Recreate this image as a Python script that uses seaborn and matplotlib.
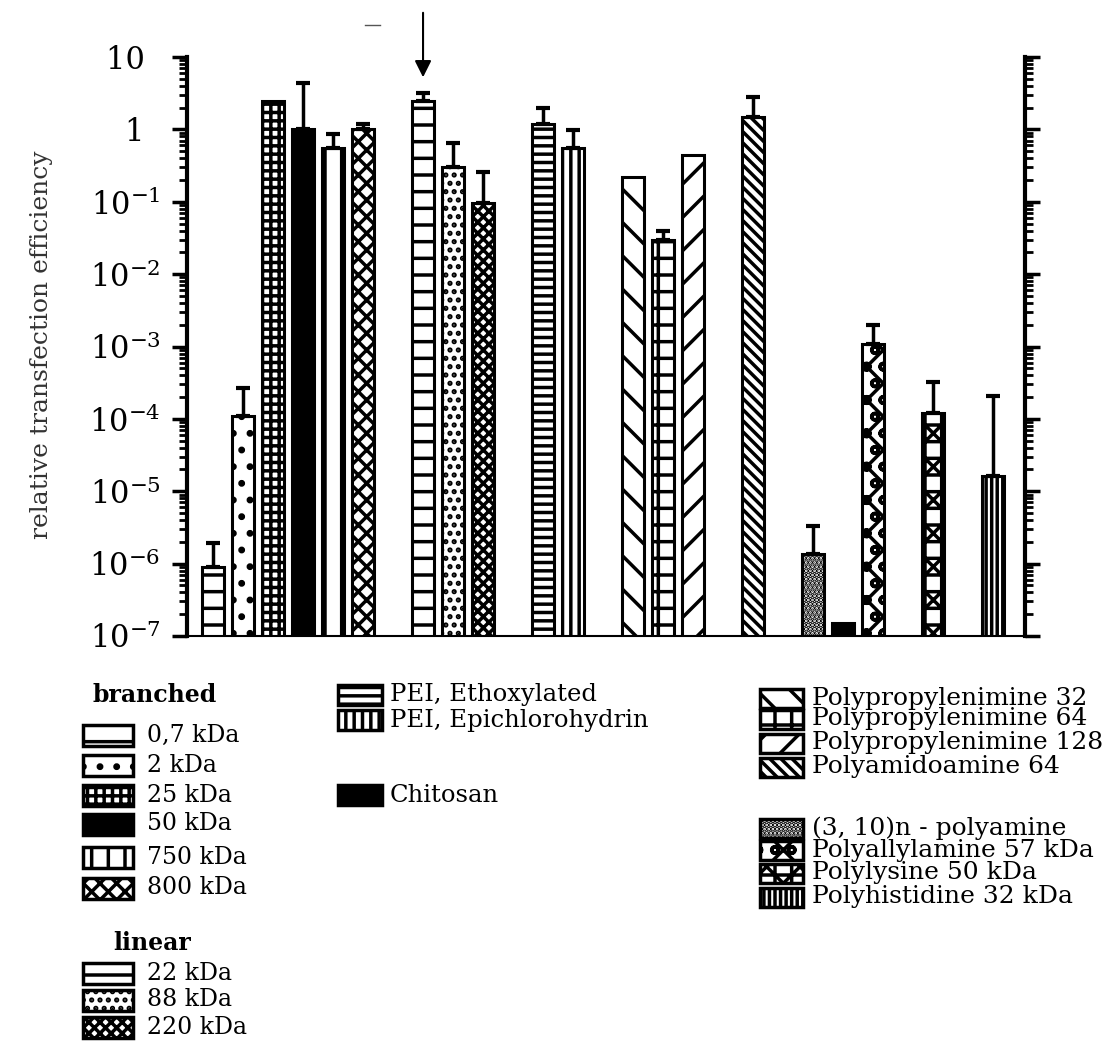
import numpy as np
import pandas as pd
import matplotlib
matplotlib.use("Agg")
import matplotlib.pyplot as plt
import seaborn as sns
from matplotlib.patches import Rectangle
from matplotlib.lines import Line2D
from matplotlib.transforms import Affine2D
from matplotlib.ticker import LogLocator, FuncFormatter, NullFormatter

# ---------------- data ----------------
labels = ["0,7 kDa", "2 kDa", "25 kDa", "50 kDa", "750 kDa", "800 kDa",
          "22 kDa", "88 kDa", "220 kDa",
          "PEI, Ethoxylated", "PEI, Epichlorohydrin",
          "Polypropylenimine 32", "Polypropylenimine 64", "Polypropylenimine 128",
          "Polyamidoamine 64",
          "(3, 10)n - polyamine", "Chitosan", "Polyallylamine 57 kDa",
          "Polylysine 50 kDa", "Polyhistidine 32 kDa"]
groups = [0, 0, 0, 0, 0, 0, 1, 1, 1, 2, 2, 3, 3, 3, 4, 5, 5, 5, 6, 7]
values = [9e-7, 1.1e-4, 2.5, 1.0, 0.55, 1.0,
          2.45, 0.30, 0.095,
          1.18, 0.55,
          0.22, 0.030, 0.44,
          1.48,
          1.35e-6, 1.5e-7, 1.07e-3,
          1.2e-4, 1.6e-5]
err_upper = [1.9e-6, 2.7e-4, np.nan, 4.4, 0.85, 1.2,
             3.2, 0.65, 0.26,
             1.95, 0.97,
             np.nan, 0.039, np.nan,
             2.8,
             3.3e-6, np.nan, 2.0e-3,
             3.2e-4, 2.1e-4]
header_branched = "branched"
header_linear = "linear"
ylabel = "relative transfection efficiency"

# ---------------- styles ----------------
fills = ["white", "white", "white", "black", "white", "white",
         "white", "white", "white",
         "white", "white",
         "white", "white", "white",
         "white",
         "white", "black", "white",
         "white", "white"]
hatches = ["-", ".", "++", "", "|", "xx",
           "-", "..", "xxx",
           "--", "||",
           "\\", "+", "/",
           "\\\\\\",
           "....", "", "xo",
           "x+", "|||"]

plt.rcParams["font.family"] = ["DejaVu Serif"]
plt.rcParams["mathtext.fontset"] = "dejavuserif"
plt.rcParams["hatch.linewidth"] = 2.5
plt.rcParams["text.color"] = "black"

W, H = 1104, 1046
fig = plt.figure(figsize=(W / 100, H / 100), dpi=100)
ax = fig.add_axes([187 / W, 1 - 636 / H, (1025 - 187) / W, (636 - 57) / H])
pix = Affine2D().scale(1 / W, -1 / H).translate(0, 1) + fig.transFigure

pos = [i + g for i, g in enumerate(groups)]
df = pd.DataFrame({"pos": pos, "value": values, "label": labels, "err": err_upper})

sns.barplot(data=df, x="pos", y="value", native_scale=True, width=0.75,
            color="white", saturation=1, edgecolor="black", linewidth=2.2,
            errorbar=None, ax=ax)
for patch, fc, hh in zip(ax.patches, fills, hatches):
    patch.set_facecolor(fc)
    patch.set_hatch(hh)
    patch.set_edgecolor("black")

ax.set_yscale("log")
ax.set_ylim(1e-7, 10)
ax.set_xlim(-0.87, 27.07)

e = df.dropna(subset=["err"])
ax.errorbar(e["pos"], e["value"], yerr=[np.zeros(len(e)), e["err"] - e["value"]],
            fmt="none", ecolor="black", elinewidth=2.5, capsize=5, capthick=3, zorder=5)

ax.yaxis.set_major_locator(LogLocator(base=10, numticks=20))
ax.yaxis.set_minor_locator(LogLocator(base=10, subs=np.arange(2, 10), numticks=100))


def fmt(v, p):
    ex = int(round(np.log10(v)))
    if ex == 1:
        return "10 \u2009"
    if ex == 0:
        return "1 \u2009"
    return r"$10^{%d}$" % ex


ax.yaxis.set_major_formatter(FuncFormatter(fmt))
ax.yaxis.set_minor_formatter(NullFormatter())
ax.tick_params(axis="y", which="major", length=11, width=2.5, labelsize=22, pad=8,
               right=True, direction="out", colors="black")
ax.tick_params(axis="y", which="minor", length=6, width=2, right=True, direction="out")
ax.tick_params(axis="x", bottom=False, labelbottom=False)
ax.set_xlabel("")
for s in ["left", "right", "bottom"]:
    ax.spines[s].set_color("black")
ax.spines["top"].set_visible(False)
ax.spines["left"].set_linewidth(3)
ax.spines["right"].set_linewidth(3)
ax.spines["bottom"].set_linewidth(1.5)

ax.set_ylabel(ylabel, fontsize=18, color="#333333")
ax.yaxis.set_label_coords(-0.16, 0.503)

# arrow above the 22 kDa bar
ax.annotate("", xy=(pos[6], 4.8), xycoords="data",
            xytext=(pos[6], 1 - 10 / H), textcoords=("data", "figure fraction"),
            arrowprops=dict(arrowstyle="-|>", color="black", lw=1.5, mutation_scale=25),
            annotation_clip=False)
fig.add_artist(Line2D([365, 380], [25, 25], transform=pix, color="#555555", lw=1))

# ---------------- legend (drawn manually) ----------------
def entry(i, hx, hw, hh, yc, tx, fs):
    fig.add_artist(Rectangle((hx, yc - hh / 2), hw, hh, transform=pix,
                             facecolor=fills[i], edgecolor="black", hatch=hatches[i],
                             linewidth=2.5))
    fig.text(tx, yc, labels[i], transform=pix, ha="left", va="center", fontsize=fs)


col1_rows = [735, 765, 795, 824, 857, 888]
for i, yc in zip(range(0, 6), col1_rows):
    entry(i, 83, 50, 21, yc, 147, 17)
for i, yc in zip(range(6, 9), [973, 1000, 1027]):
    entry(i, 83, 50, 21, yc, 147, 17)
fig.text(155, 695, header_branched, transform=pix, ha="center", va="center",
         fontsize=17, fontweight="bold")
fig.text(152, 943, header_linear, transform=pix, ha="center", va="center",
         fontsize=17, fontweight="bold")

for i, yc in zip([9, 10, 16], [695, 720, 795]):
    entry(i, 338, 44, 20, yc, 390, 17.5)

for i, yc in zip([11, 12, 13, 14, 15, 17, 18, 19],
                 [698, 719, 743, 767, 828, 850, 873, 897]):
    entry(i, 760, 43, 19, yc, 812, 18)

fig.savefig("out.png", dpi=100)
